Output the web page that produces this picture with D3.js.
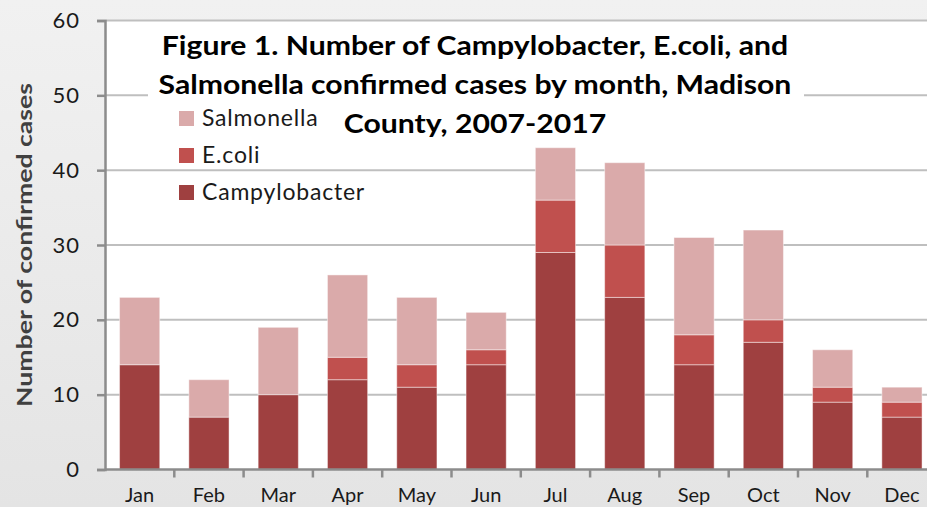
<!DOCTYPE html>
<html>
<head>
<meta charset="utf-8">
<script src="https://cdn.jsdelivr.net/npm/d3@7"></script>
<style>
  body { margin: 0; padding: 0; background: #ebebeb; }
  svg { display: block; }
</style>
</head>
<body>
<div class="chart"></div>
<script>
var months = ["Jan", "Feb", "Mar", "Apr", "May", "Jun", "Jul", "Aug", "Sep", "Oct", "Nov", "Dec"];
var campylobacter = [14, 7, 10, 12, 11, 14, 29, 23, 14, 17, 9, 7];
var ecoli = [0, 0, 0, 3, 3, 2, 7, 7, 4, 3, 2, 2];
var salmonella = [9, 5, 9, 11, 9, 5, 7, 11, 13, 12, 5, 2];
var yTicks = [0, 10, 20, 30, 40, 50, 60];
var seriesNames = ["Campylobacter", "E.coli", "Salmonella"];
var seriesColors = ["#9f4040", "#c0504e", "#daaaaa"];
var titleLines = [
  "Figure 1. Number of Campylobacter, E.coli, and",
  "Salmonella confirmed cases by month, Madison",
  "County, 2007-2017"
];

var svgWidth = 927;
var svgHeight = 507;

var margin = { top: 20.5, left: 105, bottom: 37.5 };
var plotBottom = svgHeight - margin.bottom;
var step = 69.3;

var svg = d3.select(".chart")
  .append("svg")
  .attr("width", svgWidth)
  .attr("height", svgHeight);

// background gradient
var defs = svg.append("defs");
var grad = defs.append("linearGradient")
  .attr("id", "bg")
  .attr("x1", 0).attr("y1", 0).attr("x2", 0).attr("y2", 1);
grad.append("stop").attr("offset", "0%").attr("stop-color", "#f1f1f1");
grad.append("stop").attr("offset", "100%").attr("stop-color", "#e4e4e4");

svg.append("rect")
  .attr("width", svgWidth)
  .attr("height", svgHeight)
  .attr("fill", "url(#bg)");

// plot area
svg.append("rect")
  .attr("x", margin.left)
  .attr("y", margin.top)
  .attr("width", svgWidth - margin.left)
  .attr("height", plotBottom - margin.top)
  .attr("fill", "#ffffff");

// table for stacking
var table = months.map(function(m, i) {
  return { month: m, Campylobacter: campylobacter[i], "E.coli": ecoli[i], Salmonella: salmonella[i] };
});

var x = d3.scaleBand()
  .domain(months)
  .range([margin.left, margin.left + step * months.length])
  .paddingInner(0.42)
  .paddingOuter(0.21);

var y = d3.scaleLinear()
  .domain([0, 60])
  .range([plotBottom, margin.top]);

var color = d3.scaleOrdinal()
  .domain(seriesNames)
  .range(seriesColors);

// gridlines
svg.append("g")
  .selectAll("line")
  .data(yTicks.filter(d => d > 0))
  .enter()
  .append("line")
  .attr("x1", margin.left)
  .attr("x2", svgWidth)
  .attr("y1", d => y(d))
  .attr("y2", d => y(d))
  .attr("stroke", "#bfbfbf")
  .attr("stroke-width", 2);

// title box hides part of the gridline
svg.append("rect")
  .attr("x", 148)
  .attr("y", 23)
  .attr("width", 656)
  .attr("height", 115)
  .attr("fill", "#ffffff");

// bars
var stacked = d3.stack().keys(seriesNames)(table);

svg.append("g")
  .selectAll("g")
  .data(stacked)
  .enter()
  .append("g")
  .attr("fill", d => color(d.key))
  .selectAll("rect")
  .data(d => d.filter(s => s[1] - s[0] > 0))
  .enter()
  .append("rect")
  .attr("x", d => x(d.data.month))
  .attr("y", d => y(d[1]))
  .attr("width", x.bandwidth())
  .attr("height", d => y(d[0]) - y(d[1]))
  .attr("stroke", "#ffffff")
  .attr("stroke-opacity", 0.45)
  .attr("stroke-width", 1);

// y axis
var leftAxis = d3.axisLeft(y)
  .tickValues(yTicks)
  .tickSize(8)
  .tickPadding(17);

var yAxis = svg.append("g")
  .attr("transform", `translate(${margin.left}, 0)`)
  .call(leftAxis);

yAxis.select(".domain")
  .attr("stroke", "#8c8c8c")
  .attr("stroke-width", 2.5);
yAxis.selectAll(".tick line")
  .attr("stroke", "#8c8c8c")
  .attr("stroke-width", 2.5);
yAxis.selectAll(".tick text")
  .attr("fill", "#1a1a1a")
  .style("font-family", "Lato")
  .style("font-size", "22px")
  .style("letter-spacing", "1px");

// x axis
var xAxis = svg.append("g");

xAxis.append("line")
  .attr("x1", margin.left)
  .attr("x2", svgWidth)
  .attr("y1", plotBottom)
  .attr("y2", plotBottom)
  .attr("stroke", "#8c8c8c")
  .attr("stroke-width", 2.5);

xAxis.selectAll(".xtick")
  .data(months)
  .enter()
  .append("line")
  .attr("class", "xtick")
  .attr("x1", d => x(d) + x.bandwidth() + x.step() * x.paddingInner() / 2)
  .attr("x2", d => x(d) + x.bandwidth() + x.step() * x.paddingInner() / 2)
  .attr("y1", plotBottom)
  .attr("y2", plotBottom + 8)
  .attr("stroke", "#8c8c8c")
  .attr("stroke-width", 2.5);

xAxis.selectAll(".xlabel")
  .data(months)
  .enter()
  .append("text")
  .attr("class", "xlabel")
  .attr("x", d => x(d) + x.bandwidth() / 2)
  .attr("y", 502)
  .attr("text-anchor", "middle")
  .attr("fill", "#1a1a1a")
  .style("font-family", "Lato")
  .style("font-size", "20px")
  .text(d => d);

// y axis title
svg.append("text")
  .attr("transform", "translate(32, 245) rotate(-90)")
  .attr("text-anchor", "middle")
  .attr("fill", "#404040")
  .attr("textLength", 324)
  .attr("lengthAdjust", "spacingAndGlyphs")
  .style("font-family", "Lato")
  .style("font-weight", "bold")
  .style("font-size", "21px")
  .text("Number of confirmed cases");

// title, stretched a little to match the wide original glyphs
var title = svg.append("g")
  .selectAll("text")
  .data(titleLines)
  .enter()
  .append("text")
  .attr("x", 475)
  .attr("y", (d, i) => 55 + i * 39)
  .attr("text-anchor", "middle")
  .attr("fill", "#000000")
  .style("font-family", "Lato")
  .style("font-weight", "bold")
  .style("font-size", "26px")
  .text(d => d);

title.each(function() {
  var len = this.getComputedTextLength();
  d3.select(this)
    .attr("textLength", len * 1.16)
    .attr("lengthAdjust", "spacingAndGlyphs");
});

// legend
var legendItems = seriesNames.slice().reverse();
var legend = svg.append("g")
  .selectAll("g")
  .data(legendItems)
  .enter()
  .append("g")
  .attr("transform", (d, i) => `translate(179, ${111 + i * 37})`);

legend.append("rect")
  .attr("width", 15)
  .attr("height", 15)
  .attr("fill", d => color(d));

legend.append("text")
  .attr("x", 23)
  .attr("y", 15)
  .attr("fill", "#1a1a1a")
  .style("font-family", "Lato")
  .style("font-size", "23px")
  .style("letter-spacing", "0.8px")
  .text(d => d);
</script>
</body>
</html>
